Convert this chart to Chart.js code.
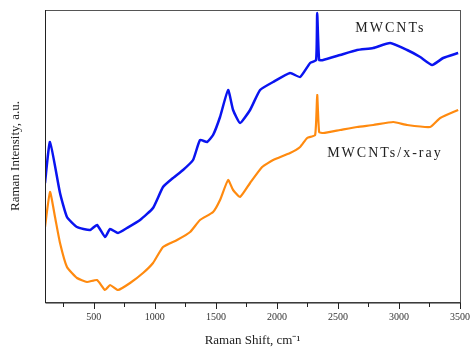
<!DOCTYPE html>
<html>
  <head>
    <meta charset="UTF-8">
    <title>Raman spectra</title>
    <script src="https://cdn.jsdelivr.net/npm/chart.js@4"></script>
    <style>
      html, body { margin: 0; padding: 0; background: #fff; }
      #wrap { width: 472px; height: 348px; }
    </style>
  </head>
  <body>
    <div id='wrap'><canvas id='ramanChart'></canvas></div>
    <script>
      // Raman shift (cm-1) and intensity (a.u.)
      const shiftBlue = [100, 141, 223, 280, 362, 469, 526, 592, 633, 698, 772, 879, 985, 1067, 1149, 1231, 1313,
        1370, 1428, 1477, 1534, 1600, 1641, 1698, 1780, 1862, 1969, 2108, 2190, 2272, 2321, 2330, 2346, 2379,
        2518, 2657, 2789, 2928, 3067, 3174, 3272, 3362, 3485];
      const intensityBlue = [119, 160, 109, 85, 75, 72, 77, 65, 73, 69, 74, 82, 94, 115, 124, 132, 142,
        162, 160, 167, 185, 212, 192, 179, 192, 212, 220, 229, 225, 239, 242, 289, 242, 242,
        247, 252, 254, 259, 252, 245, 237, 244, 249];

      const shiftOrange = [100, 141, 182, 223, 280, 362, 444, 526, 592, 633, 698, 797, 903, 985, 1067, 1182, 1289,
        1370, 1477, 1534, 1600, 1641, 1698, 1780, 1879, 1969, 2108, 2190, 2248, 2313, 2330, 2346, 2379,
        2518, 2657, 2789, 2953, 3067, 3256, 3338, 3485];
      const intensityOrange = [75, 110, 85, 59, 35, 24, 20, 22, 12, 17, 12, 19, 29, 39, 55, 62, 70,
        82, 90, 102, 122, 112, 105, 119, 135, 142, 149, 155, 164, 167, 207, 170, 169,
        172, 175, 177, 180, 177, 175, 184, 192];

      const xTicks = [250, 500, 750, 1000, 1250, 1500, 1750, 2000, 2250, 2500, 2750, 3000, 3250, 3500];

      const seriesLabels = [
        { text: 'MWCNTs', x: 2930, y: 274 },
        { text: 'MWCNTs/x-ray', x: 2885, y: 149 }
      ];

      const toPoints = (xs, ys) => xs.map((x, i) => ({ x: x, y: ys[i] }));

      const serif = '"Liberation Serif", "Times New Roman", serif';

      // box around plot, hand-drawn tick marks and the in-plot labels
      const framePlugin = {
        id: 'frame',
        afterDraw(chart) {
          const ctx = chart.ctx;
          const a = chart.chartArea;
          const xs = chart.scales.x;
          ctx.save();
          ctx.strokeStyle = '#555';
          ctx.lineWidth = 1;
          ctx.strokeRect(a.left + 0.5, a.top + 0.5, a.right - a.left, a.bottom - a.top);
          ctx.strokeStyle = '#222';
          ctx.beginPath();
          ctx.moveTo(a.left + 0.5, a.top);
          ctx.lineTo(a.left + 0.5, a.bottom + 1);
          ctx.lineTo(a.right + 1, a.bottom + 1);
          ctx.stroke();
          for (const t of xTicks) {
            const px = Math.round(xs.getPixelForValue(t)) + 0.5;
            const len = t % 500 === 0 ? 6 : 4;
            ctx.beginPath();
            ctx.moveTo(px, a.bottom + 1);
            ctx.lineTo(px, a.bottom + 1 + len);
            ctx.stroke();
          }
          ctx.fillStyle = '#222';
          ctx.font = '14px ' + serif;
          ctx.letterSpacing = '2px';
          ctx.textAlign = 'center';
          ctx.textBaseline = 'middle';
          for (const l of seriesLabels) {
            ctx.fillText(l.text, xs.getPixelForValue(l.x), chart.scales.y.getPixelForValue(l.y));
          }
          ctx.restore();
        }
      };

      new Chart(document.getElementById('ramanChart'), {
        type: 'line',
        data: {
          datasets: [{
            label: 'MWCNTs',
            data: toPoints(shiftBlue, intensityBlue),
            borderColor: '#0a14f0',
            borderWidth: 2.5,
            pointRadius: 0,
            tension: 0.15,
            fill: false
          }, {
            label: 'MWCNTs/x-ray',
            data: toPoints(shiftOrange, intensityOrange),
            borderColor: '#ff8a0f',
            borderWidth: 2.2,
            pointRadius: 0,
            tension: 0.15,
            fill: false
          }]
        },
        options: {
          responsive: true,
          maintainAspectRatio: false,
          animation: false,
          layout: { padding: { top: 10, right: 12, left: 8, bottom: 0 } },
          plugins: { legend: { display: false }, tooltip: { enabled: false } },
          scales: {
            x: {
              type: 'linear',
              min: 100,
              max: 3500,
              grid: { display: false, drawTicks: false },
              border: { display: false },
              afterBuildTicks: (scale) => { scale.ticks = xTicks.map(v => ({ value: v })); },
              ticks: {
                autoSkip: false,
                maxRotation: 0,
                padding: 9,
                color: '#333',
                font: { family: serif, size: 10 },
                callback: (v) => (v % 500 === 0 ? String(v) : '')
              },
              title: {
                display: true,
                text: 'Raman Shift, cm\u207B\u00B9',
                color: '#222',
                font: { family: serif, size: 13 },
                padding: { top: 9, bottom: 0 }
              },
              afterFit: (scale) => {
                scale.height = 46;
                scale.paddingRight = 0;
                scale.paddingLeft = 0;
              }
            },
            y: {
              min: 0,
              max: 292,
              grid: { display: false, drawTicks: false },
              border: { display: false },
              ticks: { display: false },
              title: {
                display: true,
                text: 'Raman Intensity, a.u.',
                color: '#222',
                font: { family: serif, size: 13 },
                padding: { top: 0, bottom: 0 }
              },
              afterFit: (scale) => { scale.width = 37; }
            }
          }
        },
        plugins: [framePlugin]
      });
    </script>
  </body>
</html>
